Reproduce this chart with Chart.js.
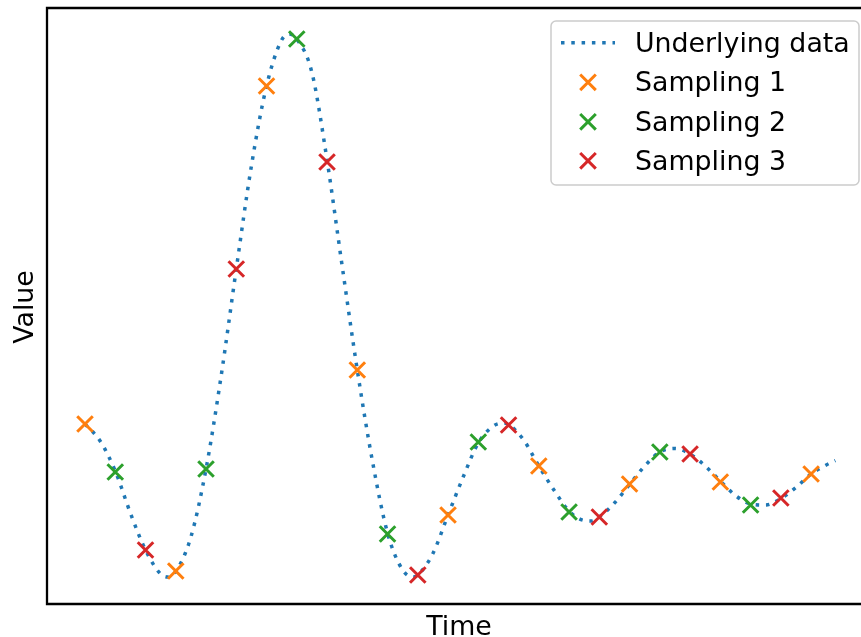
<!DOCTYPE html>
<html>
<head>
<meta charset="utf-8">
<script src="https://cdn.jsdelivr.net/npm/chart.js@4.4.0/dist/chart.umd.min.js"></script>
<style>
  html, body { margin: 0; padding: 0; overflow: hidden; background: #fff; }
  #wrap { width: 880px; height: 637px; }
</style>
</head>
<body>
<div id="wrap"><canvas id="chart" width="880" height="637"></canvas></div>
<script>
// underlying signal (time in sample steps)
const underlyingTime = [0, 0.5, 1, 1.5, 2, 2.5, 2.75, 3, 3.5, 4, 4.5, 5, 5.5, 6, 6.5, 6.75, 7, 7.5, 8, 8.5,
  9, 9.5, 10, 10.5, 10.85, 11, 11.5, 12, 12.5, 13, 13.5, 13.85, 14, 14.5, 15, 15.5, 16, 16.5, 16.75, 17,
  17.5, 18, 18.5, 19, 19.5, 20, 20.5, 21, 21.5, 22, 22.5, 23, 23.5, 24, 24.5, 24.8];
const underlyingValue = [1.53, 1.36, 1.06, 0.64, 0.27, 0.03, 0.0, 0.055, 0.40, 1.08, 2.01, 3.08, 4.11, 4.91, 5.37, 5.43, 5.38, 5.045, 4.17, 3.11,
  2.07, 1.16, 0.44, 0.07, 0.0, 0.02, 0.235, 0.62, 1.00, 1.34, 1.51, 1.54, 1.525, 1.37, 1.11, 0.87, 0.66, 0.565, 0.56, 0.60,
  0.74, 0.925, 1.11, 1.25, 1.285, 1.23, 1.11, 0.96, 0.815, 0.73, 0.72, 0.785, 0.895, 1.03, 1.12, 1.165];

const sampling1Time = [0, 3, 6, 9, 12, 15, 18, 21, 24];
const sampling1Value = [1.53, 0.06, 4.91, 2.07, 0.62, 1.11, 0.93, 0.95, 1.03];
const sampling2Time = [1, 4, 7, 10, 13, 16, 19, 22];
const sampling2Value = [1.05, 1.08, 5.38, 0.43, 1.35, 0.65, 1.25, 0.72];
const sampling3Time = [2, 5, 8, 11, 14, 17, 20, 23];
const sampling3Value = [0.27, 3.08, 4.15, 0.02, 1.52, 0.60, 1.23, 0.79];

const seriesNames = ['Underlying data', 'Sampling 1', 'Sampling 2', 'Sampling 3'];
const colors = ['#1f77b4', '#ff7f0e', '#2ca02c', '#d62728'];

const FONT = '26.8px "DejaVu Sans"';
const DASH = [3.5, 6.8];

const toPoints = (xs, ys) => xs.map((x, i) => ({ x, y: ys[i] }));

const drawX = (ctx, x, y, color) => {
  const h = 7.8;
  ctx.save();
  ctx.strokeStyle = color;
  ctx.lineWidth = 3;
  ctx.beginPath();
  ctx.moveTo(x - h, y - h); ctx.lineTo(x + h, y + h);
  ctx.moveTo(x + h, y - h); ctx.lineTo(x - h, y + h);
  ctx.stroke();
  ctx.restore();
};

// spines, axis labels and the legend box
const decor = {
  id: 'decor',
  afterDraw(chart) {
    const { ctx, chartArea: a } = chart;
    ctx.save();
    ctx.strokeStyle = '#000';
    ctx.lineWidth = 2.3;
    ctx.beginPath();
    ctx.moveTo(a.right, a.top); ctx.lineTo(a.left, a.top);
    ctx.lineTo(a.left, a.bottom); ctx.lineTo(a.right, a.bottom);
    ctx.lineTo(a.right, a.top);
    ctx.stroke();

    ctx.fillStyle = '#000';
    ctx.font = FONT;
    ctx.textAlign = 'center';
    ctx.textBaseline = 'alphabetic';
    ctx.fillText('Time', 459, 635);
    ctx.save();
    ctx.translate(33, 307);
    ctx.rotate(-Math.PI / 2);
    ctx.fillText('Value', 0, 0);
    ctx.restore();

    // legend
    const lx = 551, ly = 21, lw = 308, lh = 164, r = 5;
    ctx.beginPath();
    ctx.roundRect(lx, ly, lw, lh, r);
    ctx.fillStyle = 'rgba(255,255,255,0.8)';
    ctx.fill();
    ctx.strokeStyle = '#cccccc';
    ctx.lineWidth = 1.5;
    ctx.stroke();

    const baselines = [51.5, 91, 130.5, 169.5];
    ctx.textAlign = 'left';
    seriesNames.forEach((name, i) => {
      const cy = baselines[i] - 8.7;
      if (i === 0) {
        ctx.save();
        ctx.strokeStyle = colors[0];
        ctx.lineWidth = 3.5;
        ctx.lineCap = 'butt';
        ctx.setLineDash(DASH);
        ctx.beginPath();
        ctx.moveTo(561, cy); ctx.lineTo(615, cy);
        ctx.stroke();
        ctx.restore();
      } else {
        drawX(ctx, 588, cy, colors[i]);
      }
      ctx.fillStyle = '#000';
      ctx.fillText(name, 635, baselines[i]);
    });
    ctx.restore();
  }
};

const samplingSet = (label, xs, ys, color) => ({
  type: 'scatter',
  label,
  data: toPoints(xs, ys),
  pointStyle: 'crossRot',
  pointRadius: 11,
  pointHoverRadius: 11,
  borderWidth: 3,
  borderColor: color,
  backgroundColor: color,
  order: 0
});

new Chart(document.getElementById('chart').getContext('2d'), {
  type: 'scatter',
  data: {
    datasets: [
      {
        type: 'line',
        label: seriesNames[0],
        data: toPoints(underlyingTime, underlyingValue),
        borderColor: colors[0],
        borderWidth: 3.5,
        borderDash: DASH,
        borderCapStyle: 'butt',
        pointRadius: 0,
        fill: false,
        cubicInterpolationMode: 'monotone',
        order: 10
      },
      samplingSet(seriesNames[1], sampling1Time, sampling1Value, colors[1]),
      samplingSet(seriesNames[2], sampling2Time, sampling2Value, colors[2]),
      samplingSet(seriesNames[3], sampling3Time, sampling3Value, colors[3])
    ]
  },
  options: {
    responsive: false,
    animation: false,
    devicePixelRatio: 1,
    layout: { autoPadding: false, padding: { left: 47, top: 8, right: 9, bottom: 33 } },
    scales: {
      x: { type: 'linear', display: false, min: -1.256, max: 25.98 },
      y: { type: 'linear', display: false, min: -0.27, max: 5.69 }
    },
    plugins: {
      legend: { display: false },
      tooltip: { enabled: false }
    }
  },
  plugins: [decor]
});
</script>
</body>
</html>
